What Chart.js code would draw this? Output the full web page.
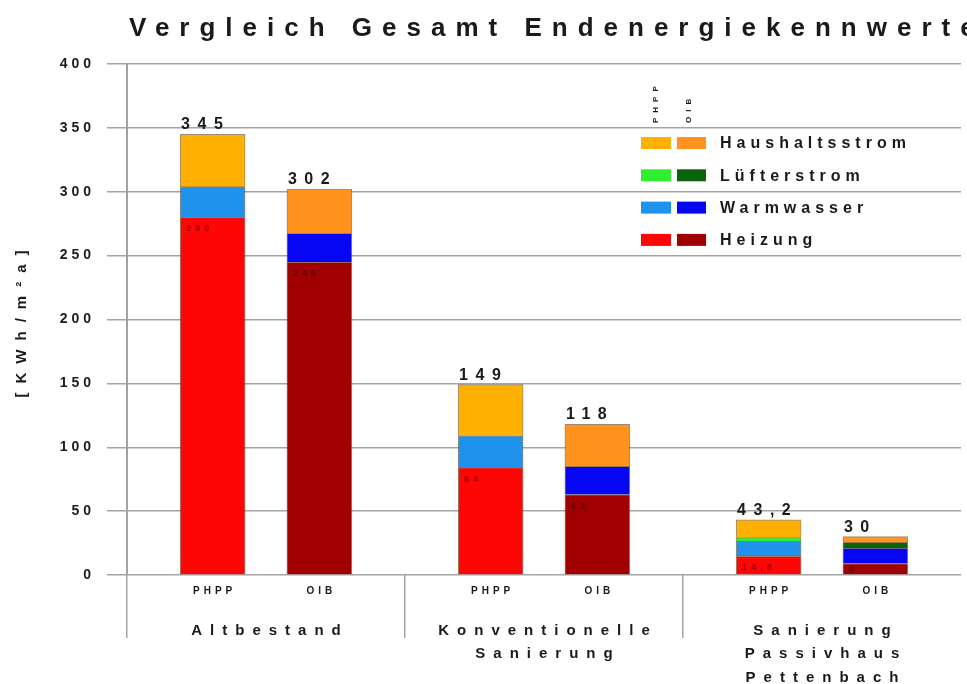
<!DOCTYPE html>
<html lang="de">
<head>
<meta charset="utf-8">
<title>Vergleich Gesamt Endenergiekennwerte</title>
<script src="https://cdn.jsdelivr.net/npm/chart.js@4/dist/chart.umd.min.js"></script>
<style>
  html, body { margin: 0; padding: 0; background: #fff; }
  #box { position: relative; width: 967px; height: 684px; }
</style>
</head>
<body>
<div id="box"><canvas id="endenergieChart"></canvas></div>
<script>
// Endenergiekennwerte in kWh/m²a, je Gruppe erst PHPP, dann OIB
const gruppen = [['Altbestand'], ['Konventionelle', 'Sanierung'], ['Sanierung', 'Passivhaus', 'Pettenbach']];
const verfahren = ['PHPP', 'OIB'];
const heizung = [280, 245, 84, 63, 14.8, 9];
const warmwasser = [24, 22.5, 25, 22, 11.5, 12];
const luefterstrom = [0, 0, 0, 0, 3, 4.5];
const haushaltsstrom = [41, 34.5, 40, 33, 13.9, 4.5];
const yTicks = [0, 50, 100, 150, 200, 250, 300, 350, 400];

const SCHRIFT = "'Liberation Sans', Arial, sans-serif";
const TEXT = '#1a1a1a';
const GRAU = '#a3a3a3';

// Farben je Reihe: [PHPP, OIB]
const farben = {
    'Haushaltsstrom': ['#ffb000', '#ff931e'],
    'Lüfterstrom': ['#2ef02e', '#0a640a'],
    'Warmwasser': ['#1f92ee', '#0606f2'],
    'Heizung': ['#ff0606', '#a00000']
};

// Lage der beiden Balken innerhalb einer Gruppe (Gruppenbreite = 1)
const versatz = [0.308, 0.692];
const balkenX = i => Math.floor(i / 2) + versatz[i % 2];

const reihen = [
    { label: 'Heizung', data: heizung },
    { label: 'Warmwasser', data: warmwasser },
    { label: 'Lüfterstrom', data: luefterstrom },
    { label: 'Haushaltsstrom', data: haushaltsstrom }
];

// Ticks der unteren Achse: Trennstriche zwischen den Gruppen + PHPP/OIB unter den Balken
const xTicks = [];
gruppen.forEach((g, gi) => {
    xTicks.push({ value: gi, text: '', trenner: true });
    verfahren.forEach((v, vi) => xTicks.push({ value: gi + versatz[vi], text: v, trenner: false }));
});

function zahl(v) {
    const r = Math.round(v * 10) / 10;
    return Number.isInteger(r) ? String(r) : r.toFixed(1).replace('.', ',');
}

function sperrText(ctx, text, x, y, font, abstand, farbe, align = 'left', baseline = 'alphabetic') {
    ctx.save();
    ctx.font = font;
    ctx.letterSpacing = abstand + 'px';
    ctx.fillStyle = farbe;
    ctx.textAlign = align;
    ctx.textBaseline = baseline;
    ctx.fillText(text, x, y);
    ctx.restore();
}

// gesperrte Schrift für die Achsenbeschriftungen
const sperrung = { y: 4, x: 4, x2: 8 };
const sperrschrift = {
    id: 'sperrschrift',
    beforeDraw(chart) {
        Object.entries(sperrung).forEach(([id, ls]) => {
            const s = chart.scales[id];
            if (!s || s._gesperrt) return;
            s._gesperrt = true;
            const labels = s.drawLabels;
            const titel = s.drawTitle;
            s.drawLabels = function (area) {
                const c = this.ctx;
                c.save();
                c.letterSpacing = ls + 'px';
                c.translate(this.isHorizontal() ? ls / 2 : ls, 0);
                labels.call(this, area);
                c.restore();
            };
            s.drawTitle = function () {
                const c = this.ctx;
                c.save();
                c.letterSpacing = '9px';
                titel.call(this);
                c.restore();
            };
        });
    }
};

const beschriftung = {
    id: 'beschriftung',
    afterDatasetsDraw(chart) {
        const ctx = chart.ctx;
        const y = chart.scales.y;
        const basis = chart.getDatasetMeta(0).data;
        heizung.forEach((h, i) => {
            const bar = basis[i];
            const links = bar.x - bar.width / 2;
            // Heizwert klein im roten Balken
            const tiefe = Math.min(14, Math.abs(bar.base - bar.y) - 1);
            sperrText(ctx, zahl(h), links + 6, bar.y + tiefe, 'bold 9px ' + SCHRIFT, 4,
                i % 2 ? '#5c0000' : '#a80000');
            // Summe über dem Balken
            const summe = reihen.reduce((s, r) => s + r.data[i], 0);
            sperrText(ctx, zahl(summe), links + 1, y.getPixelForValue(summe) - 5,
                'bold 16px ' + SCHRIFT, 7.5, TEXT);
        });
    },
    afterDraw(chart) {
        const ctx = chart.ctx;
        sperrText(ctx, 'Vergleich Gesamt Endenergiekennwerte', 129, 36, 'bold 26px ' + SCHRIFT, 10, TEXT);

        // Legende mit je einem Farbfeld für PHPP und OIB
        ['PHPP', 'OIB'].forEach((t, k) => {
            ctx.save();
            ctx.translate(k ? 691 : 658, 123);
            ctx.rotate(-Math.PI / 2);
            sperrText(ctx, t, 0, 0, 'bold 8px ' + SCHRIFT, 5, TEXT);
            ctx.restore();
        });
        ['Haushaltsstrom', 'Lüfterstrom', 'Warmwasser', 'Heizung'].forEach((name, r) => {
            const mitte = 143 + r * 32.3;
            ctx.fillStyle = farben[name][0];
            ctx.fillRect(641, mitte - 6, 30, 12);
            ctx.fillStyle = farben[name][1];
            ctx.fillRect(677, mitte - 6, 29, 12);
            sperrText(ctx, name, 720, mitte + 1, 'bold 16px ' + SCHRIFT, 5, TEXT, 'left', 'middle');
        });
    }
};

Chart.defaults.font.family = SCHRIFT;

new Chart(document.getElementById('endenergieChart'), {
    type: 'bar',
    data: {
        datasets: reihen.map(r => ({
            label: r.label,
            data: r.data.map((v, i) => ({ x: balkenX(i), y: v })),
            backgroundColor: r.data.map((_, i) => farben[r.label][i % 2]),
            borderColor: 'rgba(70,45,0,0.55)',
            borderWidth: 1,
            barThickness: 65
        }))
    },
    options: {
        responsive: true,
        maintainAspectRatio: false,
        animation: false,
        layout: { padding: { top: 64, right: 6, left: 0, bottom: 0 } },
        plugins: {
            legend: { display: false },
            tooltip: { enabled: false }
        },
        scales: {
            x: {
                type: 'linear',
                min: 0,
                max: 3,
                offset: false,
                stacked: true,
                afterBuildTicks(s) { s.ticks = xTicks.map(t => ({ value: t.value })); },
                afterFit(s) { s.height = 24; },
                ticks: {
                    autoSkip: false,
                    maxRotation: 0,
                    padding: -53,
                    color: TEXT,
                    font: { size: 10, weight: 'bold' },
                    callback: (v, i) => xTicks[i].text
                },
                grid: {
                    offset: false,
                    drawOnChartArea: false,
                    tickLength: 63,
                    lineWidth: 1.5,
                    color: c => (c.tick && xTicks[c.index] && xTicks[c.index].trenner) ? GRAU : 'rgba(0,0,0,0)'
                },
                border: { display: false }
            },
            x2: {
                type: 'linear',
                position: 'bottom',
                min: 0,
                max: 3,
                offset: false,
                afterBuildTicks(s) { s.ticks = gruppen.map((g, gi) => ({ value: gi + 0.5 })); },
                afterFit(s) { s.height = 85; },
                ticks: {
                    autoSkip: false,
                    maxRotation: 0,
                    padding: 20,
                    color: TEXT,
                    font: { size: 15, weight: 'bold', lineHeight: 1.57 },
                    callback: (v, i) => gruppen[i]
                },
                grid: { display: false, drawTicks: false, offset: false },
                border: { display: false }
            },
            y: {
                stacked: true,
                min: 0,
                max: 400,
                afterBuildTicks(s) { s.ticks = yTicks.map(v => ({ value: v })); },
                afterFit(s) { s.width = 127; },
                ticks: {
                    padding: 16,
                    color: TEXT,
                    font: { size: 14, weight: 'bold' }
                },
                grid: { color: GRAU, lineWidth: 1.5, tickLength: 20 },
                border: { color: GRAU, width: 2 },
                title: {
                    display: true,
                    text: '[KWh/m²a]',
                    color: TEXT,
                    font: { size: 15, weight: 'bold' },
                    padding: { top: 13, bottom: 0 }
                }
            }
        }
    },
    plugins: [sperrschrift, beschriftung]
});
</script>
</body>
</html>
